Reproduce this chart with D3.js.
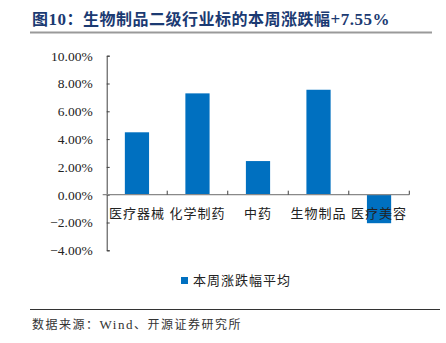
<!DOCTYPE html>
<html>
<head>
<meta charset="utf-8">
<script src="https://cdn.jsdelivr.net/npm/d3@7"></script>
<style>
  html, body { margin: 0; padding: 0; background: #fff; }
  svg { display: block; }
</style>
</head>
<body>
<svg id="chart" width="446" height="343"></svg>
<script>
// Weekly change (%) of the biotech sub-industries
const categories = ["医疗器械", "化学制药", "中药", "生物制品", "医疗美容"];
const weeklyChange = [4.49, 7.29, 2.42, 7.55, -2.05];
const yTicks = [-4, -2, 0, 2, 4, 6, 8, 10];
// Title and source split into runs so Latin text uses a serif face
const titleRuns = [["图", "cjk"], ["10", "serif"], ["：生物制品二级行业标的本周涨跌幅", "cjk"], ["+7.55%", "serif"]];
const legendText = "本周涨跌幅平均";
const sourceRuns = [["数据来源：", "cjk"], ["Wind", "serif"], ["、开源证券研究所", "cjk"]];

const svg = d3.select("#chart");
const cjk = "'Noto Sans CJK SC', 'Noto Sans', sans-serif";
const serif = "'Liberation Serif', 'DejaVu Serif', serif";
const face = k => (k === "serif" ? serif : cjk);

// Title and rule beneath it
svg.append("text")
  .attr("x", 32).attr("y", 25)
  .attr("font-weight", 700).attr("font-size", 16).attr("letter-spacing", 0.5)
  .attr("fill", "#1B3A72")
  .selectAll("tspan").data(titleRuns).join("tspan")
  .attr("font-family", d => face(d[1]))
  .attr("font-size", d => (d[1] === "serif" ? 17 : 16))
  .text(d => d[0]);
svg.append("line")
  .attr("x1", 30).attr("x2", 432).attr("y1", 32.5).attr("y2", 32.5)
  .attr("stroke", "#9a9a9a").attr("stroke-width", 2);

// Scales
const x = d3.scaleBand().domain(categories).range([106.7, 409.3]).padding(0);
const y = d3.scaleLinear().domain([-4, 10]).range([250.3, 55.7]);
const barW = x.bandwidth() * 0.4;

// Bars
svg.append("g").selectAll("rect")
  .data(categories.map((c, i) => ({ c, v: weeklyChange[i] })))
  .join("rect")
  .attr("x", d => x(d.c) + (x.bandwidth() - barW) / 2)
  .attr("width", barW)
  .attr("y", d => y(Math.max(0, d.v)))
  .attr("height", d => Math.abs(y(d.v) - y(0)))
  .attr("fill", "#0070C0");

// Y axis with inward ticks
const yAxis = svg.append("g")
  .attr("transform", "translate(106.7,0)")
  .call(d3.axisLeft(y).tickValues(yTicks).tickSizeInner(-3).tickSizeOuter(-3)
    .tickPadding(14).tickFormat(d => d3.format(".2f")(d) + "%"));
yAxis.select(".domain").attr("stroke", "#404040");
yAxis.selectAll(".tick line").attr("stroke", "#404040");
yAxis.selectAll(".tick text")
  .attr("font-family", serif).attr("font-size", 13.5).attr("fill", "#222");

// X axis along zero with ticks at category boundaries
const xAxisG = svg.append("g").attr("transform", `translate(0,${y(0)})`);
xAxisG.append("line")
  .attr("x1", x.range()[0] - 4).attr("x2", x.range()[1])
  .attr("stroke", "#898989").attr("stroke-width", 1.2);
xAxisG.selectAll("line.bound")
  .data(categories.map(c => x(c) + x.bandwidth()))
  .join("line").attr("class", "bound")
  .attr("x1", d => d).attr("x2", d => d)
  .attr("y1", 0).attr("y2", -4)
  .attr("stroke", "#404040");

// Category labels just below zero line
svg.append("g").selectAll("text")
  .data(categories)
  .join("text")
  .attr("x", d => x(d) + x.bandwidth() / 2)
  .attr("y", y(0) + 23)
  .attr("text-anchor", "middle")
  .attr("font-family", cjk).attr("font-size", 13).attr("letter-spacing", 1)
  .attr("fill", "#222")
  .text(d => d);

// Legend
svg.append("rect")
  .attr("x", 181).attr("y", 277).attr("width", 7).attr("height", 7)
  .attr("fill", "#0070C0");
svg.append("text")
  .attr("x", 193).attr("y", 285)
  .attr("font-family", cjk).attr("font-size", 13).attr("letter-spacing", 1)
  .attr("fill", "#222")
  .text(legendText);

// Source note
svg.append("line")
  .attr("x1", 30).attr("x2", 440).attr("y1", 309.5).attr("y2", 309.5)
  .attr("stroke", "#333").attr("stroke-width", 1);
svg.append("text")
  .attr("x", 32).attr("y", 329)
  .attr("font-size", 12).attr("letter-spacing", 1.5)
  .attr("fill", "#333")
  .selectAll("tspan").data(sourceRuns).join("tspan")
  .attr("font-family", d => face(d[1]))
  .attr("font-size", d => (d[1] === "serif" ? 13 : 12))
  .text(d => d[0]);
</script>
</body>
</html>
